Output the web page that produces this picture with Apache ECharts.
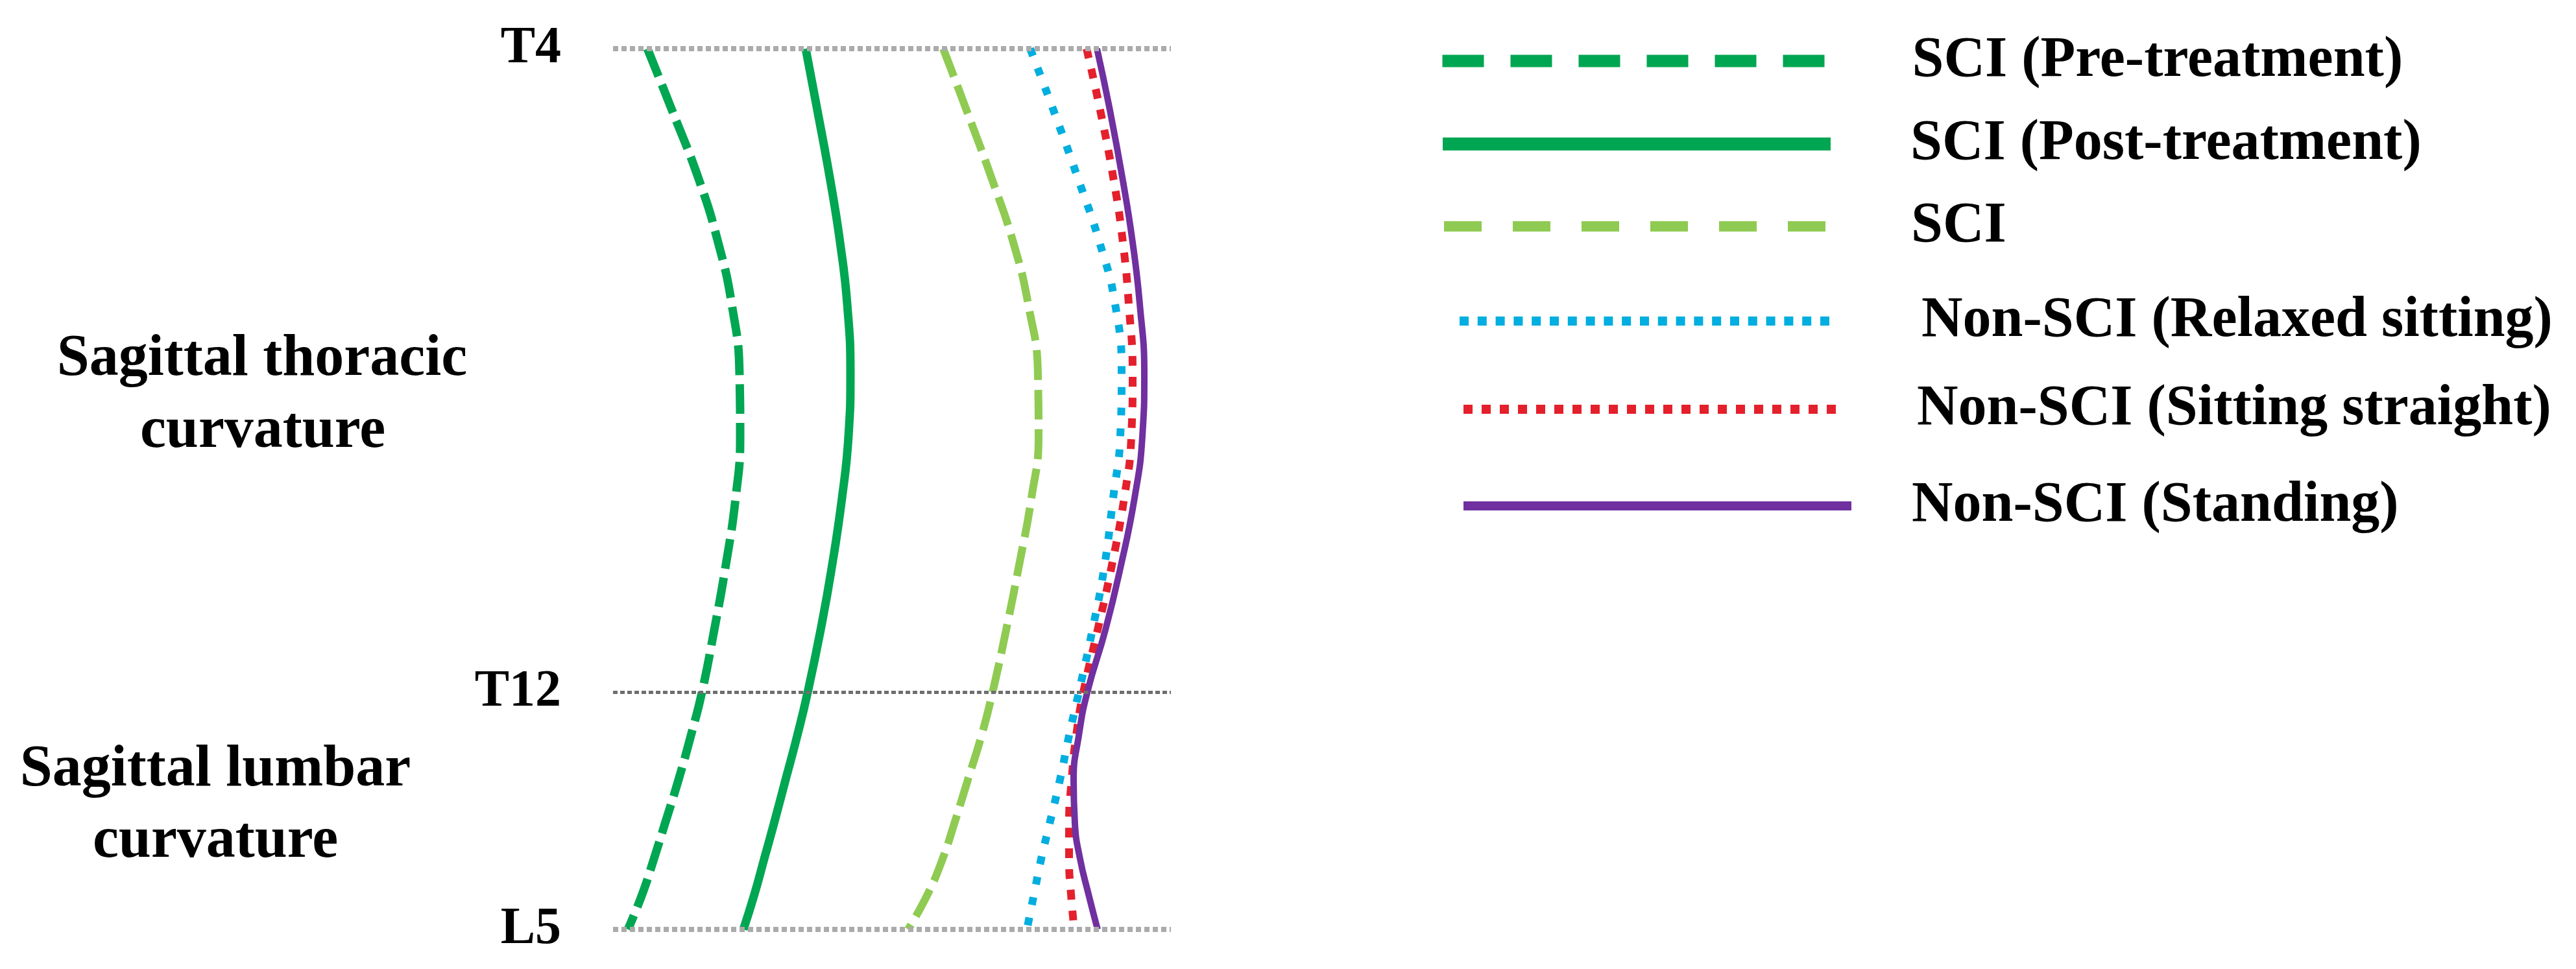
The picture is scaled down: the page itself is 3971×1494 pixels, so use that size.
<!DOCTYPE html>
<html lang="en" style="height: 100%">
<head>
<meta charset="utf-8">
<title>Sagittal spinal curvature</title>
</head>
<body style="height: 100%; margin: 0; background: #fff">
<div id="container" style="height: 100%"></div>

<script type="text/javascript" src="https://cdn.jsdelivr.net/npm/echarts/dist/echarts.min.js"></script>

<script type="text/javascript">

// Spine levels (position along spine, 0 = T4, 100 = L5)
var levelNames = ['T4', 'T12', 'L5'];
var levelPos = [0, 73.1, 100];

// Sample positions along the spine shared by every curve
var spinePos = [0, 7, 15, 22, 29, 37, 44, 51, 59, 66, 73.1, 78, 83, 88, 92, 96, 100];

// Sagittal offset of each profile at those positions
var sciPre = [5.3, 9.1, 13.3, 16.2, 18.3, 19.5, 19.6, 18.9, 17.3, 15.6, 13.7, 12.0, 10.1, 8.0, 6.3, 4.5, 2.3];
var sciPost = [29.7, 31.5, 33.5, 35.0, 36.1, 36.6, 36.3, 35.3, 33.7, 32.0, 30.0, 28.4, 26.6, 24.8, 23.3, 21.8, 20.1];
var sci = [50.9, 54.5, 58.5, 61.7, 64.0, 65.5, 65.6, 64.5, 62.5, 60.6, 58.5, 56.8, 54.7, 52.6, 50.8, 48.5, 45.5];
var relaxed = [64.3, 67.9, 71.8, 75.0, 77.4, 78.4, 78.2, 77.1, 75.7, 73.9, 71.8, 70.3, 68.9, 67.3, 66.0, 64.9, 63.8];
var straight = [73.0, 75.1, 77.2, 78.6, 79.5, 80.1, 79.9, 78.8, 76.8, 74.7, 72.5, 71.4, 70.7, 70.3, 70.3, 70.6, 71.1];
var standing = [74.6, 76.6, 78.6, 80.1, 81.2, 81.9, 81.6, 80.4, 78.2, 75.9, 73.1, 71.8, 71.0, 71.2, 72.0, 73.3, 74.7];

var seriesNames = [
    'SCI (Pre-treatment)',
    'SCI (Post-treatment)',
    'SCI',
    'Non-SCI (Relaxed sitting)',
    'Non-SCI (Sitting straight)',
    'Non-SCI (Standing)'
];
var seriesValues = [sciPre, sciPost, sci, relaxed, straight, standing];

var dom = document.getElementById('container');
var myChart = echarts.init(dom);

var serif = "'Liberation Serif', 'Times New Roman', serif";

var styles = [
    {color: '#00a651', width: 13, type: [46, 14]},
    {color: '#00a651', width: 13, type: 'solid'},
    {color: '#8fcb52', width: 12, type: [46, 15]},
    {color: '#00aee0', width: 12, type: [12, 20]},
    {color: '#e4202c', width: 12, type: [15, 17]},
    {color: '#7030a0', width: 10, type: 'solid'}
];

// legend boxes: icon left, icon centre, icon width, line style, text left
var legendLook = [
    {left: 2214, cy: 100, w: 590, lw: 19, type: [64, 41], textX: 2938},
    {left: 2214, cy: 228, w: 598, lw: 20, type: 'solid', textX: 2935},
    {left: 2218, cy: 355, w: 588, lw: 16, type: [58, 48], textX: 2938},
    {left: 2243, cy: 501, w: 582, lw: 14, type: [14, 13.8], textX: 2955},
    {left: 2249, cy: 637, w: 587, lw: 14, type: [14, 14], textX: 2948},
    {left: 2249, cy: 786, w: 598, lw: 14, type: 'solid', textX: 2940}
];

var series = seriesNames.map(function (name, i) {
    return {
        name: name,
        type: 'line',
        smooth: true,
        symbol: 'none',
        silent: true,
        z: 3,
        lineStyle: {
            color: styles[i].color,
            width: styles[i].width,
            type: styles[i].type,
            cap: 'butt'
        },
        itemStyle: {color: styles[i].color},
        data: seriesValues[i].map(function (v, j) {
            return [v, spinePos[j]];
        })
    };
});

var levelLine = [
    {color: '#ababab', width: 8, type: [8, 5]},
    {color: '#6e6e6e', width: 5, type: [7, 4]},
    {color: '#ababab', width: 8, type: [8, 5]}
];

series.push({
    type: 'line',
    data: [],
    silent: true,
    z: 1,
    markLine: {
        silent: true,
        symbol: ['none', 'none'],
        animation: false,
        label: {
            show: true,
            position: 'start',
            formatter: '{b}',
            distance: 80,
            padding: [0, 0, 14, 0],
            color: '#000',
            fontFamily: serif,
            fontWeight: 'bold',
            fontSize: 80
        },
        data: levelNames.map(function (n, i) {
            return {name: n, yAxis: levelPos[i], lineStyle: levelLine[i]};
        })
    }
});

var legends = legendLook.map(function (l, i) {
    return {
        data: [seriesNames[i]],
        left: l.left,
        top: l.cy - 50,
        padding: 0,
        selectedMode: false,
        itemWidth: l.w,
        itemHeight: 20,
        itemStyle: {opacity: 0, borderWidth: 0},
        lineStyle: {width: l.lw, type: l.type, cap: 'butt'},
        textStyle: {
            fontFamily: serif,
            fontWeight: 'bold',
            fontSize: 88,
            color: '#000',
            padding: [0, 0, 12, l.textX - (l.left + l.w + 5)]
        }
    };
});

var titleFont = 'bold 90px ' + serif;

function label(text, x, y) {
    return {
        type: 'text',
        style: {text: text, x: x, y: y, font: titleFont, fill: '#000', textAlign: 'center', textVerticalAlign: 'middle'}
    };
}

var option = {
    animation: false,
    backgroundColor: '#fff',
    grid: {left: 945, top: 75, width: 860, height: 1358},
    xAxis: {type: 'value', min: 0, max: 86, show: false},
    yAxis: {type: 'value', min: 0, max: 100, inverse: true, show: false},
    legend: legends,
    graphic: [
        label('Sagittal thoracic', 404, 555),
        label('curvature', 405, 666),
        label('Sagittal lumbar', 332, 1188),
        label('curvature', 332, 1298)
    ],
    series: series
};

myChart.setOption(option);

window.addEventListener('resize', myChart.resize);
</script>
</body>
</html>
